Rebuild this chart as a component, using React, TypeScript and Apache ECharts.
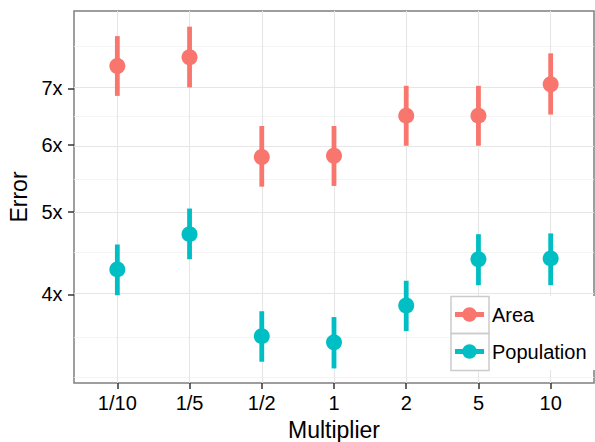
import React, { useEffect, useRef } from "react";
import * as echarts from "echarts";

const categories = ["1/10", "1/5", "1/2", "1", "2", "5", "10"];
const areaMid = [7.44, 7.62, 5.81, 5.83, 6.5, 6.5, 7.08];
const areaLow = [6.86, 7.02, 5.36, 5.37, 5.99, 5.99, 6.52];
const areaHigh = [8.07, 8.28, 6.32, 6.32, 7.05, 7.05, 7.7];
const popMid = [4.28, 4.71, 3.57, 3.51, 3.88, 4.4, 4.41];
const popLow = [3.99, 4.4, 3.33, 3.27, 3.62, 4.1, 4.1];
const popHigh = [4.58, 5.05, 3.82, 3.76, 4.15, 4.71, 4.72];
const yTicks = [4, 5, 6, 7];
const yMinorTicks = [3.2, 3.578, 4.472, 5.477, 6.481, 7.826];
const yLimits = [3.143, 8.64];
const seriesNames = ["Area", "Population"];
const colors = ["#F8766D", "#00BFC4"];

const FONT = "'Liberation Sans', Arial, Helvetica, sans-serif";
const ln = Math.log;
const xPos = categories.map((_, i) => i + 1);

const iconPath =
  "path://M0,5 L30,5 L30,10 L0,10 Z M7.5,7.5 A7.5,7.5 0 1,1 22.5,7.5 A7.5,7.5 0 1,1 7.5,7.5 Z";

function barSeries(name: string, low: number[], high: number[], color: string) {
  return {
    name,
    type: "custom",
    z: 3,
    silent: true,
    data: xPos.map((x, i) => [x, ln(low[i]), ln(high[i])]),
    renderItem: (params: any, api: any) => {
      const p1 = api.coord([api.value(0), api.value(1)]);
      const p2 = api.coord([api.value(0), api.value(2)]);
      return {
        type: "line",
        shape: { x1: p1[0], y1: p1[1], x2: p2[0], y2: p2[1] },
        style: { stroke: color, lineWidth: 4.8, lineCap: "butt" },
      };
    },
  };
}

function pointSeries(name: string, mid: number[], color: string) {
  return {
    name,
    type: "scatter",
    z: 4,
    symbol: "circle",
    symbolSize: 16,
    itemStyle: { color, opacity: 1 },
    data: xPos.map((x, i) => [x, ln(mid[i])]),
  };
}

function gridSeries(name: string, data: any[], color: string, width: number) {
  return {
    name,
    type: "line",
    z: 1,
    silent: true,
    data: [],
    markLine: {
      z: 1,
      silent: true,
      symbol: "none",
      label: { show: false },
      emphasis: { disabled: true },
      lineStyle: { color, width, type: "solid" },
      data,
    },
  };
}

export default function App() {
  const ref = useRef<HTMLDivElement>(null);
  useEffect(() => {
    document.body.style.margin = "0";
    document.body.style.overflow = "hidden";
    if (!ref.current) return;
    const chart = echarts.init(ref.current, null, { renderer: "svg" });
    const option = {
      animation: false,
      backgroundColor: "#ffffff",
      grid: {
        left: 74,
        right: 1,
        top: 11,
        bottom: 59,
        containLabel: false,
        outerBoundsMode: "none",
        show: true,
        borderColor: "#7f7f7f",
        borderWidth: 1.5,
        backgroundColor: "transparent",
      },
      xAxis: {
        type: "value",
        min: 0.4,
        max: 7.6,
        name: "Multiplier",
        nameLocation: "middle",
        nameGap: 35,
        nameTextStyle: { fontFamily: FONT, fontSize: 23, color: "#000" },
        axisLine: { show: false },
        splitLine: { show: false },
        axisTick: {
          show: true,
          customValues: xPos,
          length: 6,
          lineStyle: { color: "#333", width: 1.5 },
        },
        axisLabel: {
          customValues: xPos,
          margin: 10,
          fontFamily: FONT,
          fontSize: 20,
          color: "#000",
          formatter: (v: number) => categories[Math.round(v) - 1] ?? "",
        },
      },
      yAxis: {
        type: "value",
        min: ln(yLimits[0]),
        max: ln(yLimits[1]),
        name: "Error",
        nameLocation: "middle",
        nameGap: 43,
        nameRotate: 90,
        nameTextStyle: { fontFamily: FONT, fontSize: 23, color: "#000" },
        axisLine: { show: false },
        splitLine: { show: false },
        axisTick: {
          show: true,
          customValues: yTicks.map(ln),
          length: 6,
          lineStyle: { color: "#333", width: 1.5 },
        },
        axisLabel: {
          customValues: yTicks.map(ln),
          margin: 11.5,
          fontFamily: FONT,
          fontSize: 20,
          color: "#000",
          formatter: (v: number) => Math.round(Math.exp(v)) + "x",
        },
      },
      legend: {
        data: seriesNames.map((n) => ({ name: n, icon: iconPath })),
        orient: "vertical",
        left: 450,
        top: 296,
        padding: [8.5, 10, 8.5, 5],
        itemGap: 17,
        itemWidth: 29,
        itemHeight: 15,
        backgroundColor: "#ffffff",
        z: 10,
        selectedMode: false,
        textStyle: {
          fontFamily: FONT,
          fontSize: 20,
          lineHeight: 20,
          color: "#000",
          padding: [0, 0, 0, 3],
        },
      },
      graphic: [
        {
          type: "rect",
          z: 20,
          silent: true,
          shape: { x: 451, y: 296.5, width: 38, height: 37 },
          style: { fill: "none", stroke: "#cccccc", lineWidth: 1.5 },
        },
        {
          type: "rect",
          z: 20,
          silent: true,
          shape: { x: 451, y: 333.5, width: 38, height: 37 },
          style: { fill: "none", stroke: "#cccccc", lineWidth: 1.5 },
        },
      ],
      series: [
        gridSeries("grid-minor", yMinorTicks.map((v) => ({ yAxis: ln(v) })), "#f3f3f3", 0.8),
        gridSeries(
          "grid-major",
          [...yTicks.map((v) => ({ yAxis: ln(v) })), ...xPos.map((v) => ({ xAxis: v }))],
          "#e6e6e6",
          1.1
        ),
        barSeries("Area bars", areaLow, areaHigh, colors[0]),
        barSeries("Population bars", popLow, popHigh, colors[1]),
        pointSeries("Area", areaMid, colors[0]),
        pointSeries("Population", popMid, colors[1]),
      ],
    };
    chart.setOption(option as any);
    return () => chart.dispose();
  }, []);
  return <div ref={ref} style={{ width: 595, height: 442 }} />;
}
